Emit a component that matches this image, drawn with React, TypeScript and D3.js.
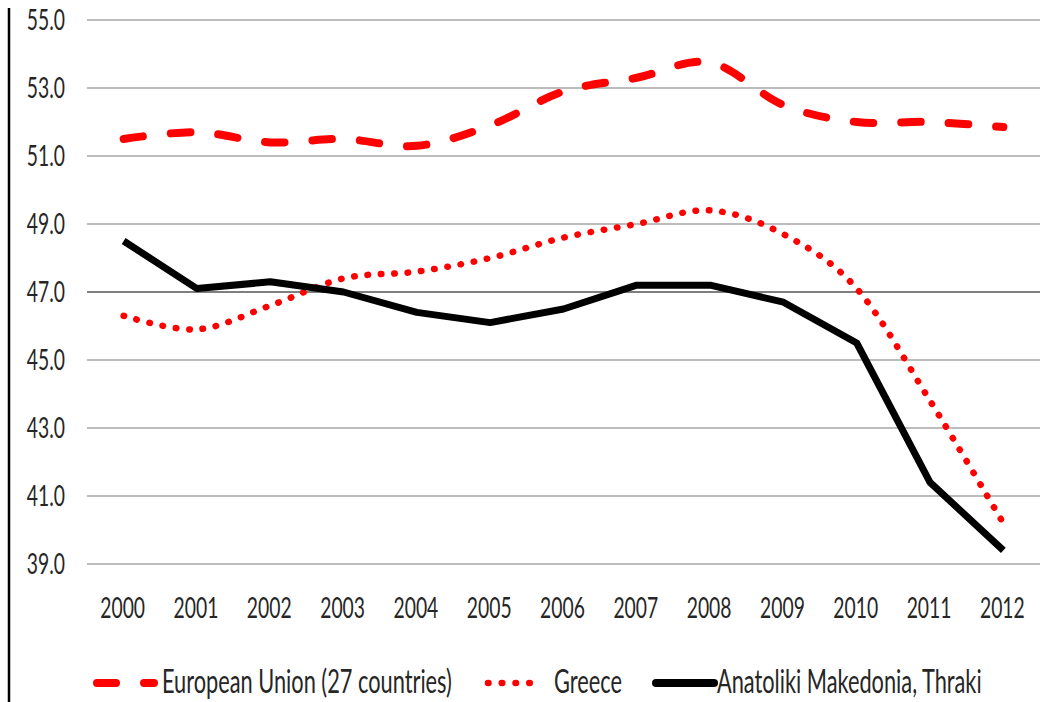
import React from "react";
import * as d3 from "d3";

const years = ["2000","2001","2002","2003","2004","2005","2006","2007","2008","2009","2010","2011","2012"];
const euValues = [51.5, 51.7, 51.4, 51.5, 51.3, 51.9, 52.9, 53.3, 53.75, 52.5, 52.0, 52.0, 51.85];
const greeceValues = [46.3, 45.9, 46.6, 47.4, 47.6, 48.0, 48.6, 49.0, 49.4, 48.7, 47.1, 43.8, 40.2];
const amtValues = [48.5, 47.1, 47.3, 47.0, 46.4, 46.1, 46.5, 47.2, 47.2, 46.7, 45.5, 41.4, 39.4];
const yTicks = [39, 41, 43, 45, 47, 49, 51, 53, 55];
const seriesNames = ["European Union (27 countries)", "Greece", "Anatoliki Makedonia, Thraki"];

const W = 1061, H = 702;
const plotLeft = 87, plotRight = 1040;
const FONT = "Lato, 'Open Sans', sans-serif";
const SX = 0.69;
const LSX = 0.66;

export default function App() {
  const y = d3.scaleLinear().domain([39, 55]).range([564, 20]);
  const band = (plotRight - plotLeft) / years.length;
  const x = d3.scalePoint<string>().domain(years).range([plotLeft + band / 2, plotRight - band / 2]);

  const smooth = d3.line<number>().x((_, i) => x(years[i])!).y(v => y(v)).curve(d3.curveCatmullRom.alpha(0));
  const straight = d3.line<number>().x((_, i) => x(years[i])!).y(v => y(v));

  return (
    <svg width={W} height={H} style={{ position: "absolute", left: 0, top: 0, background: "#fff" }}>
      <rect x={0} y={0} width={W} height={H} fill="#fff" />
      <line x1={9} x2={9} y1={8} y2={H} stroke="#000" strokeWidth={2.5} />
      {yTicks.map(t => (
        <g key={t}>
          <line x1={plotLeft} x2={plotRight} y1={y(t)} y2={y(t)}
            stroke={t === 47 ? "#7f7f7f" : "#a6a6a6"} strokeWidth={t === 47 ? 2 : 1.5} />
          <text transform={`translate(65,${y(t) + 10}) scale(${SX},1)`} textAnchor="end"
            fontFamily={FONT} fontSize={28} fill="#262626">{t.toFixed(1)}</text>
        </g>
      ))}
      {years.map(yr => (
        <text key={yr} transform={`translate(${x(yr)! - 1},618) scale(${SX},1)`} textAnchor="middle"
          fontFamily={FONT} fontSize={28} fill="#262626">{yr}</text>
      ))}
      <path d={smooth(euValues)!} fill="none" stroke="#ff0000" strokeWidth={8}
        strokeDasharray="19.5 28" strokeLinecap="round" />
      <path d={smooth(greeceValues)!} fill="none" stroke="#ff0000" strokeWidth={6.5}
        strokeDasharray="0.5 12.9" strokeLinecap="round" />
      <path d={straight(amtValues)!} fill="none" stroke="#000" strokeWidth={7} strokeLinejoin="round" />

      {/* legend */}
      <line x1={97} x2={116} y1={683} y2={683} stroke="#ff0000" strokeWidth={8} strokeLinecap="round" />
      <line x1={144} x2={154} y1={683} y2={683} stroke="#ff0000" strokeWidth={8} strokeLinecap="round" />
      <text transform={`translate(162,693) scale(${LSX},1)`} fontFamily={FONT} fontSize={33} fill="#262626">{seriesNames[0]}</text>
      <line x1={488} x2={543} y1={683} y2={683} stroke="#ff0000" strokeWidth={6.5}
        strokeDasharray="0.5 13.25" strokeLinecap="round" />
      <text transform={`translate(554,693) scale(${LSX},1)`} fontFamily={FONT} fontSize={33} fill="#262626">{seriesNames[1]}</text>
      <line x1={656} x2={714} y1={683} y2={683} stroke="#000" strokeWidth={8} strokeLinecap="round" />
      <text transform={`translate(717,693) scale(${LSX},1)`} fontFamily={FONT} fontSize={33} fill="#262626">{seriesNames[2]}</text>
    </svg>
  );
}
